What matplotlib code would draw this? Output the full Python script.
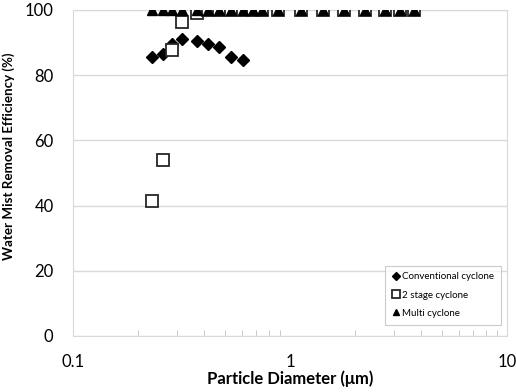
import numpy as np
import matplotlib
matplotlib.use('Agg')
import matplotlib.pyplot as plt
from matplotlib.ticker import FixedLocator, FixedFormatter, LogLocator, NullFormatter

plt.rcParams['font.family'] = ['Lato', 'DejaVu Sans']

# particle diameters (um)
diam = [0.232, 0.261, 0.285, 0.319, 0.372, 0.419, 0.469, 0.533, 0.609, 0.678,
        0.741, 0.883, 1.127, 1.424, 1.768, 2.216, 2.73, 3.21, 3.73]
conv_d = diam[:9]
conv_eff = [85.6, 86.5, 89.6, 91.0, 90.6, 89.5, 88.5, 85.5, 84.8]
stage2_eff = [41.5, 54.0, 87.7, 96.3, 99.0, 100, 100, 100, 100, 100,
              100, 100, 100, 100, 100, 100, 100, 100, 100]
multi_eff = [100] * 19

xticks = [0.1, 1, 10]
xlabels = ['0.1', '1', '10']
yticks = [0, 20, 40, 60, 80, 100]

gray = '#d9d9d9'

fig = plt.figure(figsize=(5.16, 3.92), dpi=100)
ax = fig.add_axes([0.1415, 0.1429, 0.841, 0.8316])

ax.plot(conv_d, conv_eff, 'D', color='black', markersize=6, label='Conventional cyclone', zorder=3)
ax.plot(diam, stage2_eff, 's', markerfacecolor='white', markeredgecolor='#262626',
        markeredgewidth=1.3, markersize=8, label='2 stage cyclone', zorder=4)
ax.plot(diam, multi_eff, '^', color='black', markersize=7, label='Multi cyclone', zorder=5)

ax.set_xscale('log')
ax.set_xlim(0.1, 10)
ax.set_ylim(0, 100)
ax.xaxis.set_major_locator(FixedLocator(xticks))
ax.xaxis.set_major_formatter(FixedFormatter(xlabels))
ax.xaxis.set_minor_locator(LogLocator(base=10, subs=np.arange(2, 10)))
ax.xaxis.set_minor_formatter(NullFormatter())
ax.set_yticks(yticks)

ax.tick_params(axis='x', which='major', length=0, labelsize=12, pad=13)
ax.tick_params(axis='x', which='minor', direction='in', length=4, color='#bfbfbf')
ax.tick_params(axis='y', length=0, labelsize=12, pad=14)

ax.grid(axis='y', color=gray, linewidth=1)
ax.set_axisbelow(True)
for s in ax.spines.values():
    s.set_color(gray)

ax.set_xlabel('Particle Diameter (\u03bcm)', fontsize=12, fontweight='bold')
ax.xaxis.set_label_coords(0.5, -0.105)
ax.set_ylabel('Water Mist Removal Efficiency (%)', fontsize=9.6, fontweight='bold')
ax.yaxis.set_label_coords(-0.134, 0.55)

leg = ax.legend(loc='lower right', fontsize=7, frameon=True, fancybox=False,
                edgecolor='#bfbfbf', handlelength=0.8, handletextpad=0.3,
                markerscale=0.7, labelspacing=0.95, borderpad=0.7,
                bbox_to_anchor=(0.998, 0.02))
leg.get_frame().set_linewidth(0.8)

fig.savefig('out.png', dpi=100)
